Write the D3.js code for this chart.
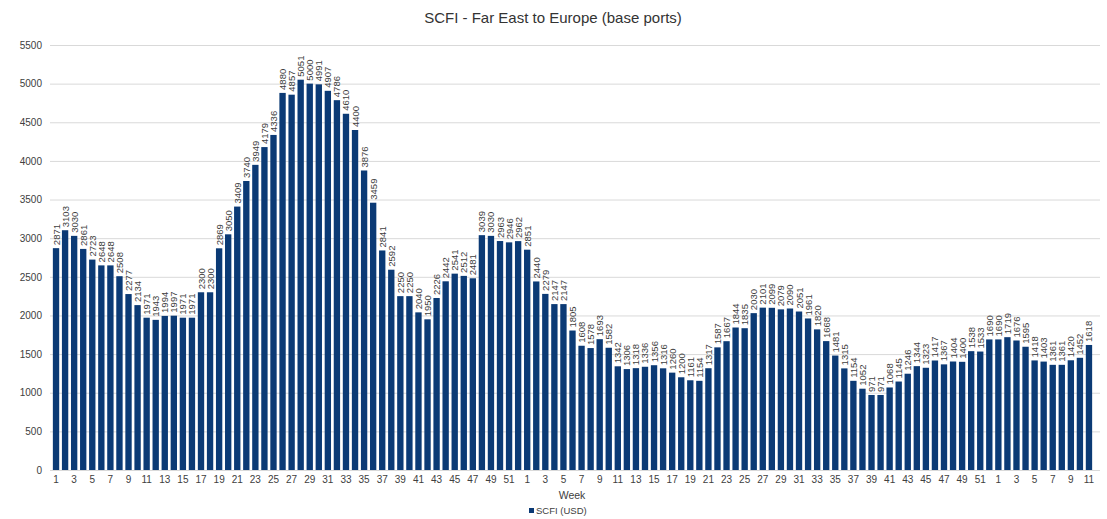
<!DOCTYPE html>
<html><head><meta charset="utf-8">
<script src="https://cdn.jsdelivr.net/npm/d3@7"></script>
<style>body{margin:0;background:#fff;}svg{display:block;font-family:"Liberation Sans",Arial,sans-serif;}</style>
</head><body><svg id="c" width="1107" height="519"></svg>
<script>
const weeks = [1,2,3,4,5,6,7,8,9,10,11,12,13,14,15,16,17,18,19,20,21,22,23,24,25,26,27,28,29,30,31,32,33,34,35,36,37,38,39,40,41,42,43,44,45,46,47,48,49,50,51,52,
1,2,3,4,5,6,7,8,9,10,11,12,13,14,15,16,17,18,19,20,21,22,23,24,25,26,27,28,29,30,31,32,33,34,35,36,37,38,39,40,41,42,43,44,45,46,47,48,49,50,51,52,
1,2,3,4,5,6,7,8,9,10,11];
const scfi = [2871,3103,3030,2861,2723,2648,2648,2508,2277,2134,
1971,1943,1994,1997,1971,1971,2300,2300,2869,3050,
3409,3740,3949,4179,4336,4880,4857,5051,5000,4991,
4907,4786,4610,4400,3876,3459,2841,2592,2250,2250,
2040,1950,2226,2442,2541,2512,2481,3039,3030,2963,
2946,2962,2851,2440,2279,2147,2147,1805,1608,1578,
1693,1582,1342,1306,1318,1336,1356,1316,1260,1200,
1161,1154,1317,1587,1667,1844,1835,2030,2101,2099,
2079,2090,2051,1961,1820,1668,1481,1315,1154,1052,
971,971,1068,1145,1246,1344,1323,1417,1367,1404,
1400,1538,1533,1690,1690,1719,1676,1595,1418,1403,
1361,1361,1420,1452,1618];
const yTicks = [0,500,1000,1500,2000,2500,3000,3500,4000,4500,5000,5500];
const title = "SCFI - Far East to Europe (base ports)";
const seriesName = "SCFI (USD)";
const xTitle = "Week";

const svg = d3.select("#c");
const barColor = "#0b3a75";
const textColor = "#404040";
const x = d3.scaleBand().domain(d3.range(scfi.length)).range([51.5, 1093.5]).paddingInner(0.3).paddingOuter(0.15);
const y = d3.scaleLinear().domain([0,5500]).range([470,45]);

// grid
svg.append("g").selectAll("line").data(yTicks).join("line")
  .attr("x1",50).attr("x2",1100)
  .attr("y1",d=>y(d)+0.5).attr("y2",d=>y(d)+0.5)
  .attr("stroke","#d9d9d9").attr("stroke-width",1);

// y axis
const ya = d3.axisLeft(y).tickValues(yTicks).tickFormat(d3.format("d")).tickSize(0).tickPadding(0);
svg.append("g").attr("transform","translate(42,0)").call(ya)
  .call(g=>g.select(".domain").remove())
  .call(g=>g.selectAll("text").attr("fill",textColor).style("font-size","10px").attr("font-family","Liberation Sans, Arial, sans-serif"));

// bars
svg.append("g").selectAll("rect").data(scfi).join("rect")
  .attr("x",(d,i)=>x(i)).attr("width",x.bandwidth())
  .attr("y",d=>y(d)).attr("height",d=>y(0)-y(d))
  .attr("fill",barColor);

// labels
svg.append("g").selectAll("text").data(scfi).join("text")
  .attr("transform",(d,i)=>`translate(${x(i)+x.bandwidth()/2+3.5},${y(d)-3}) rotate(-90)`)
  .attr("text-anchor","start")
  .attr("fill",textColor).style("font-size","9.5px")
  .text(d=>d);

// x axis
const xa = d3.axisBottom(x).tickValues(d3.range(0,scfi.length,2)).tickFormat(i=>weeks[i]).tickSize(0).tickPadding(6);
svg.append("g").attr("transform","translate(0,470)").call(xa)
  .call(g=>g.select(".domain").remove())
  .call(g=>g.selectAll("text").attr("fill",textColor).style("font-size","10px").attr("font-family","Liberation Sans, Arial, sans-serif"));

svg.append("text").attr("x",572).attr("y",499).attr("text-anchor","middle")
  .attr("fill",textColor).style("font-size","10.5px").text(xTitle);

// title
svg.append("text").attr("x",553).attr("y",23).attr("text-anchor","middle")
  .attr("fill","#333").style("font-size","15px").text(title);

// legend
const lg = svg.append("g").attr("transform","translate(529,511)");
lg.append("rect").attr("x",0).attr("y",-3).attr("width",5).attr("height",5).attr("fill",barColor);
lg.append("text").attr("x",7).attr("y",3).attr("fill",textColor).style("font-size","9.5px").text(seriesName);
</script></body></html>
